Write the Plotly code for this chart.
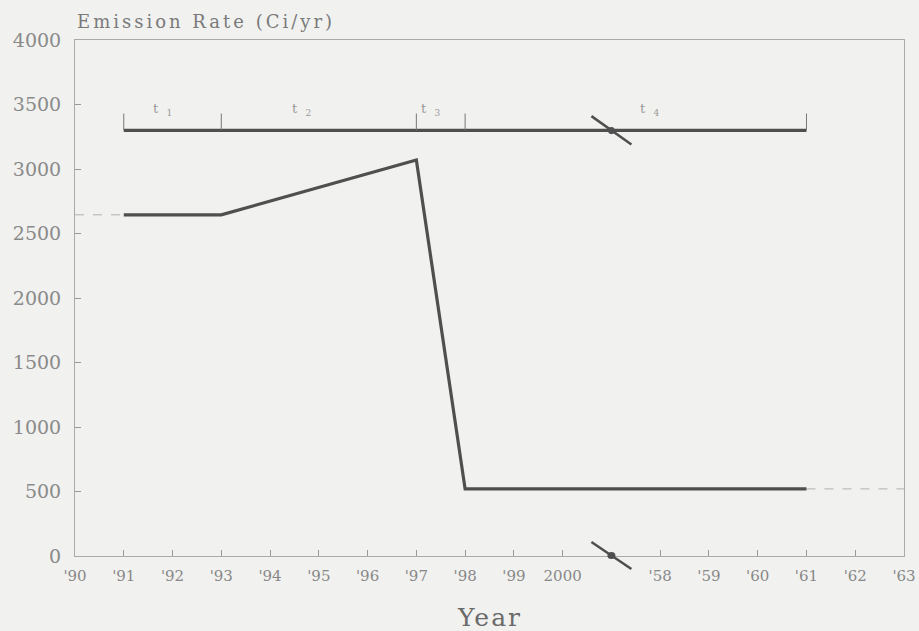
import plotly.graph_objects as go

# ---- data ----
x_labels = ["'90", "'91", "'92", "'93", "'94", "'95", "'96", "'97", "'98", "'99",
            "2000", " ", "'58", "'59", "'60", "'61", "'62", "'63"]
break_label = " "
y_ticks = [0, 500, 1000, 1500, 2000, 2500, 3000, 3500, 4000]

rate_years = ["'91", "'93", "'97", "'98", "'61"]
rate_values = [2645, 2645, 3070, 520, 520]

pre_years = ["'90", "'91"]
pre_values = [2645, 2645]
post_years = ["'61", "'63"]
post_values = [520, 520]

period_bounds = ["'91", "'93", "'97", "'98", "'61"]
period_level = 3300
period_labels = ["t<sub>1</sub>", "t<sub>2</sub>", "t<sub>3</sub>", "t<sub>4</sub>"]

# ---- styling ----
BG = "#f1f1ef"
INK = "#4f4f4f"
FONT = "DejaVu Serif"

idx = {c: i for i, c in enumerate(x_labels)}

fig = go.Figure()

fig.add_trace(go.Scatter(x=pre_years, y=pre_values, mode="lines",
                         line=dict(color="#b0b0b0", width=1, dash="dash"),
                         showlegend=False, hoverinfo="skip"))
fig.add_trace(go.Scatter(x=post_years, y=post_values, mode="lines",
                         line=dict(color="#b0b0b0", width=1, dash="dash"),
                         showlegend=False, hoverinfo="skip"))
fig.add_trace(go.Scatter(x=rate_years, y=rate_values, mode="lines",
                         line=dict(color=INK, width=3.2),
                         showlegend=False))

# period bar
fig.add_trace(go.Scatter(x=[period_bounds[0], period_bounds[-1]],
                         y=[period_level, period_level], mode="lines",
                         line=dict(color=INK, width=3.2),
                         showlegend=False, hoverinfo="skip"))

shapes = []
for b in period_bounds:
    shapes.append(dict(type="line", xref="x", yref="y",
                       x0=idx[b], x1=idx[b], y0=period_level, y1=period_level + 130,
                       line=dict(color="#777", width=1)))

bi = idx[break_label]
# break mark on the period bar
shapes.append(dict(type="line", xref="x", yref="y",
                   x0=bi - 0.41, x1=bi + 0.41,
                   y0=period_level + 110, y1=period_level - 110,
                   line=dict(color=INK, width=2.5)))
shapes.append(dict(type="circle", xref="x", yref="y",
                   x0=bi - 0.07, x1=bi + 0.07,
                   y0=period_level - 30, y1=period_level + 25,
                   fillcolor=INK, line=dict(width=0)))
# break mark on the x axis (paper ref to avoid clipping)
n = len(x_labels) - 1
xp = bi / n
shapes.append(dict(type="line", xref="paper", yref="paper",
                   x0=xp - 0.41 / n, x1=xp + 0.41 / n,
                   y0=14 / 516, y1=-13 / 516,
                   line=dict(color=INK, width=2.5)))
shapes.append(dict(type="circle", xref="paper", yref="paper",
                   x0=xp - 4 / 829, x1=xp + 4 / 829, y0=-3 / 516, y1=4 / 516,
                   fillcolor=INK, line=dict(width=0)))

annotations = []
label_pos = [1.8, 4.65, 7.3, 11.8]
for lab, pos in zip(period_labels, label_pos):
    annotations.append(dict(x=pos, y=period_level + 160, xref="x", yref="y",
                            text=lab.replace("t<sub>", "t&nbsp;&nbsp;<sub>"),
                            showarrow=False, font=dict(family=FONT, size=13, color="#999")))

annotations.append(dict(x=0, y=1, xref="paper", yref="paper", xanchor="left",
                        yanchor="bottom", yshift=6,
                        text="<span style='letter-spacing:3px'>Emission Rate (Ci/yr)</span>",
                        showarrow=False, font=dict(family=FONT, size=18, color="#7a7a7a")))
annotations.append(dict(x=0.5, y=0, xref="paper", yref="paper", xanchor="center",
                        yanchor="middle", yshift=-61,
                        text="<span style='letter-spacing:2px'>Year</span>",
                        showarrow=False, font=dict(family=FONT, size=25, color="#6a6a6a")))

fig.update_layout(
    width=919, height=631,
    margin=dict(l=75, r=15, t=40, b=75),
    paper_bgcolor=BG, plot_bgcolor=BG,
    shapes=shapes, annotations=annotations,
    xaxis=dict(type="category", categoryarray=x_labels, categoryorder="array",
               range=[0, n], automargin=False,
               tickmode="array",
               tickvals=[c for c in x_labels if c != break_label],
               ticktext=[c for c in x_labels if c != break_label],
               ticks="inside", ticklen=6, tickcolor="#999",
               showline=True, linecolor="#aaa", linewidth=1, mirror=True,
               showgrid=False, zeroline=False,
               tickfont=dict(family=FONT, size=15, color="#888"),
               ticklabelstandoff=6),
    yaxis=dict(range=[0, 4000], tickmode="array", tickvals=y_ticks, automargin=False,
               ticks="inside", ticklen=6, tickcolor="#999",
               showline=True, linecolor="#aaa", linewidth=1, mirror=True,
               showgrid=False, zeroline=False,
               tickfont=dict(family=FONT, size=19, color="#8a8a8a"),
               ticklabelstandoff=9),
)

fig.write_html("out.html", config={"displayModeBar": False},
               post_script="document.body.style.margin='0';document.body.style.background='%s';" % BG)
